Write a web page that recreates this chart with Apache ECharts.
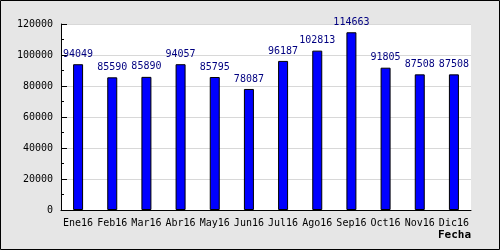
<!DOCTYPE html>
<html><head><meta charset="utf-8">
<script src="https://cdn.jsdelivr.net/npm/echarts@6/dist/echarts.min.js"></script>
<style>html,body{margin:0;padding:0;background:#e6e6e6}#c{width:500px;height:250px}</style>
</head><body><div id="c"></div>
<script>
const categories = ['Ene16','Feb16','Mar16','Abr16','May16','Jun16','Jul16','Ago16','Sep16','Oct16','Nov16','Dic16'];
const values = [94049, 85590, 85890, 94057, 85795, 78087, 96187, 102813, 114663, 91805, 87508, 87508];
const axisName = 'Fecha';
const chart = echarts.init(document.getElementById('c'), null, {renderer:'canvas'});
const font = 'DejaVu Sans Mono';
chart.setOption({
  backgroundColor: '#e6e6e6',
  animation: false,
  graphic: [{type:'rect', shape:{x:0.5,y:0.5,width:499,height:249}, style:{fill:'none', stroke:'#000', lineWidth:1}, z:100}],
  grid: {left:61, right:29, top:24, bottom:40, show:true, backgroundColor:'#fff', borderWidth:0},
  xAxis: {
    type:'category', data: categories,
    name: axisName, nameLocation:'end', nameGap: 0,
    nameTextStyle: {fontFamily: font, fontSize: 11, fontWeight:'bold', color:'#000', align:'right', verticalAlign:'top', padding:[20,0,0,0]},
    axisLine: {lineStyle:{color:'#000', width:1}},
    axisTick: {inside:true, length:5, lineStyle:{color:'#000'}},
    axisLabel: {fontFamily: font, fontSize: 10, color:'#000', margin:8, interval:0}
  },
  yAxis: {
    type:'value', min:0, max:120000, interval:20000,
    axisLine: {show:true, lineStyle:{color:'#000', width:1}},
    axisTick: {show:true, inside:true, length:6, lineStyle:{color:'#000'}},
    minorTick: {show:true, splitNumber:2, length:3, lineStyle:{color:'#000'}},
    splitLine: {show:true, lineStyle:{color:'#d8d8d8', width:1}},
    axisLabel: {fontFamily: font, fontSize: 10, color:'#000', margin:8, formatter: v => String(v)}
  },
  series: [{
    type:'bar', data: values, barWidth: 10,
    itemStyle: {color:'#0000ff', borderColor:'#000', borderWidth:1, borderRadius:0},
    label: {show:true, position:'top', distance:5, fontFamily: font, fontSize: 10, color:'#000080', formatter: p => String(p.value)}
  }]
});
</script></body></html>
